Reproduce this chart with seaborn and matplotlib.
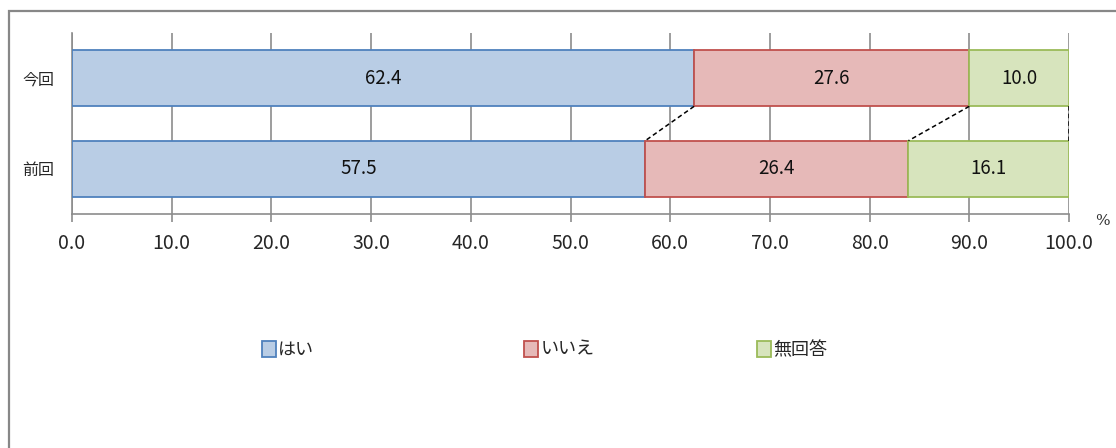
import numpy as np
import pandas as pd
import matplotlib
matplotlib.use("Agg")
import matplotlib.pyplot as plt
from matplotlib.patches import Rectangle, Patch
import seaborn as sns

# ---------------------------------------------------------------------------
# Data
# ---------------------------------------------------------------------------
categories = ["今回", "前回"]
series_names = ["はい", "いいえ", "無回答"]
hai = [62.4, 57.5]
iie = [27.6, 26.4]
mukaito = [10.0, 16.1]
x_ticks = [0, 10, 20, 30, 40, 50, 60, 70, 80, 90, 100]

FILLS = ["#B9CDE5", "#E6B9B8", "#D7E4BD"]
EDGES = ["#4F81BD", "#C0504D", "#9BBB59"]
GRID = "#8C8C8C"
NUM_FONT = ["Noto Sans CJK JP", "DejaVu Sans"]

sns.set_theme(style="white")
plt.rcParams["font.family"] = ["Noto Sans CJK JP", "DejaVu Sans"]

fig = plt.figure(figsize=(11.16, 4.48), dpi=100)
ax = fig.add_axes([72 / 1116, 1 - 214 / 448, 997 / 1116, 181 / 448])

# outer frame (chart area border, clipped at right/bottom)
fig.patches.append(Rectangle((9 / 1116, -0.1), 1.2, 1 - 11 / 448 + 0.1,
                             transform=fig.transFigure, fill=False,
                             edgecolor="#878787", linewidth=1.6))

values = [hai, iie, mukaito]
lefts = np.zeros(len(categories))
for name, vals, fc, ec in zip(series_names, values, FILLS, EDGES):
    df = pd.DataFrame({"cat": categories, "val": vals})
    sns.barplot(data=df, x="val", y="cat", orient="h", ax=ax, color=fc,
                width=0.62, left=lefts.copy(), edgecolor=ec, linewidth=1.3,
                saturation=1, zorder=3)
    for i, (lft, v) in enumerate(zip(lefts, vals)):
        ax.text(lft + v / 2, i, f"{v:.1f}", ha="center", va="center",
                fontsize=13.5, color="#111111", zorder=4, family=NUM_FONT)
    lefts = lefts + np.array(vals)

# dashed connector lines between bars
h = 0.62
cum_top = np.cumsum([hai[0], iie[0], mukaito[0]])
cum_bot = np.cumsum([hai[1], iie[1], mukaito[1]])
for a, b in zip(cum_top, cum_bot):
    ax.plot([a, b], [0 + h / 2, 1 - h / 2], ls=(0, (3, 2)), color="black",
            lw=1.1, zorder=5)

ax.set_xlim(0, 100)
ax.set_ylim(1.5, -0.5)
ax.set_xticks(x_ticks)
ax.set_xticklabels([f"{t:.1f}" for t in x_ticks], fontsize=14,
                   family=NUM_FONT)
ax.set_yticks([-0.5, 0.5, 1.5], minor=False)
ax.set_yticklabels([])
ax.set_yticks([0, 1], minor=True)
ax.set_yticklabels(categories, minor=True, fontsize=11.5)
ax.tick_params(axis="y", which="minor", length=0, pad=13)
ax.tick_params(axis="y", which="major", length=5, color=GRID, width=1.2,
               direction="in")
ax.tick_params(axis="x", length=6, color=GRID, width=1.2, direction="out",
               pad=8, bottom=True)
ax.grid(axis="x", color=GRID, linewidth=1.2, zorder=0)
ax.grid(axis="y", visible=False)
ax.set_xlabel("")
ax.set_ylabel("")
for side in ["top", "right"]:
    ax.spines[side].set_visible(False)
for side in ["left", "bottom"]:
    ax.spines[side].set_color(GRID)
    ax.spines[side].set_linewidth(1.2)

ax.text(1.034, -0.04, "%", transform=ax.transAxes, fontsize=11,
        ha="center", va="center", color="#333333", family="DejaVu Serif")

# legend entries placed like the original (uneven gaps)
legend_x = [262, 524, 757]
for name, fc, ec, lx in zip(series_names, FILLS, EDGES, legend_x):
    fig.legend([Patch(facecolor=fc, edgecolor=ec, linewidth=1.3)], [name],
               loc="center left", bbox_to_anchor=(lx / 1116, 1 - 350 / 448),
               frameon=False, fontsize=13, handlelength=0.75,
               handleheight=0.95, handletextpad=0.15, borderpad=0,
               borderaxespad=0)

fig.savefig("out.png", dpi=100)
